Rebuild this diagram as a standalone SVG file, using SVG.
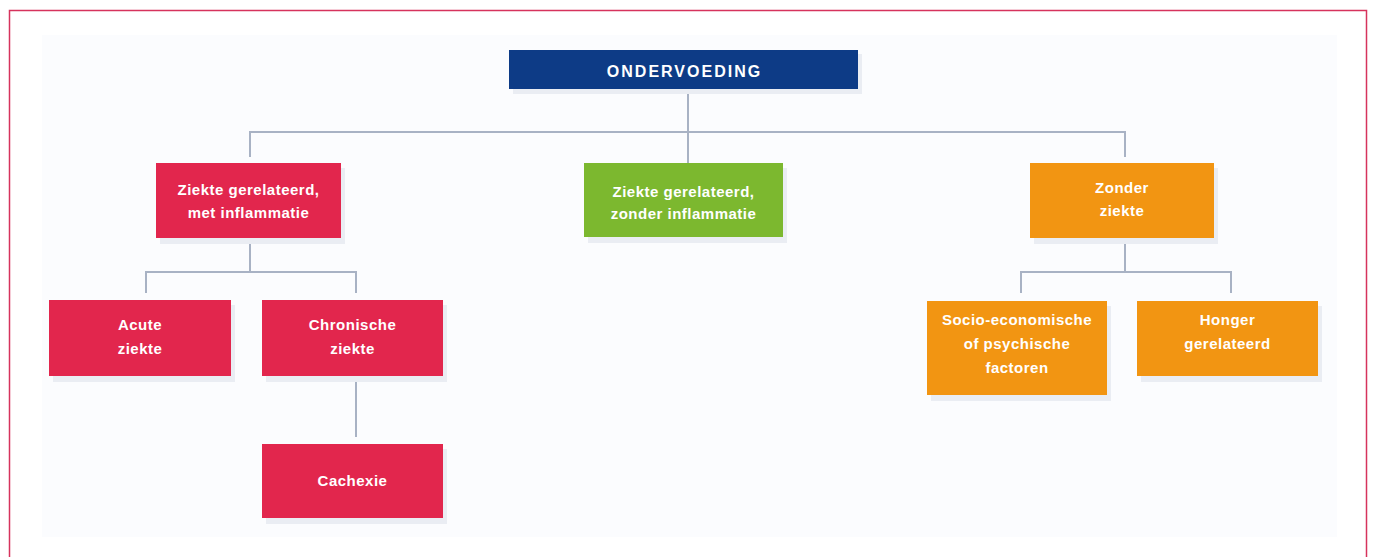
<svg xmlns="http://www.w3.org/2000/svg" width="1375" height="557" viewBox="0 0 1375 557">
<style>
.t{font-family:"Liberation Sans",Arial,sans-serif;font-weight:bold;font-size:15px;letter-spacing:0.5px;fill:#fff;text-anchor:middle}
.c{fill:none;stroke:#a8b2c4;stroke-width:2}
.sh{fill:#eaedf3}
.red{fill:#e2264d}.org{fill:#f29512}.grn{fill:#7cb82f}.nav{fill:#0d3b86}
</style>
<rect x="0" y="0" width="1375" height="557" fill="#fff"/>
<rect x="9.5" y="10.5" width="1357" height="560" fill="none" stroke="#d6335c" stroke-width="1.5"/>
<rect x="42" y="35" width="1295" height="502" fill="#fbfcfe"/>
<g id="connectors">
<path class="c" d="M688 89V132M250 157V132H1125V157M688 132V163"/>
<path class="c" d="M250 238V272M146 293V272H356V293"/>
<path class="c" d="M356 376V437"/>
<path class="c" d="M1125 238V272M1021 293V272H1231V293"/>
</g>
<g id="n-ondervoeding">
<rect class="sh" x="513" y="54" width="349" height="40"/>
<rect class="nav" x="509" y="50" width="349" height="39"/>
<text class="t" x="684.5" y="77" style="font-size:16px;letter-spacing:2px">ONDERVOEDING</text>
</g>
<g id="n-met">
<rect class="sh" x="160" y="168" width="185" height="76"/>
<rect class="red" x="156" y="163" width="185" height="75"/>
<text class="t" x="248.5" y="195">Ziekte gerelateerd,</text>
<text class="t" x="248.5" y="218">met inflammatie</text>
</g>
<g id="n-zonder-infl">
<rect class="sh" x="588" y="168" width="199" height="75"/>
<rect class="grn" x="584" y="163" width="199" height="74"/>
<text class="t" x="683.5" y="197">Ziekte gerelateerd,</text>
<text class="t" x="683.5" y="219">zonder inflammatie</text>
</g>
<g id="n-zonder-ziekte">
<rect class="sh" x="1034" y="168" width="184" height="76"/>
<rect class="org" x="1030" y="163" width="184" height="75"/>
<text class="t" x="1122" y="193">Zonder</text>
<text class="t" x="1122" y="216">ziekte</text>
</g>
<g id="n-acute">
<rect class="sh" x="53" y="305" width="182" height="77"/>
<rect class="red" x="49" y="300" width="182" height="76"/>
<text class="t" x="140" y="330">Acute</text>
<text class="t" x="140" y="354">ziekte</text>
</g>
<g id="n-chronische">
<rect class="sh" x="266" y="305" width="181" height="77"/>
<rect class="red" x="262" y="300" width="181" height="76"/>
<text class="t" x="352.5" y="330">Chronische</text>
<text class="t" x="352.5" y="354">ziekte</text>
</g>
<g id="n-cachexie">
<rect class="sh" x="266" y="449" width="181" height="75"/>
<rect class="red" x="262" y="444" width="181" height="74"/>
<text class="t" x="352.5" y="486">Cachexie</text>
</g>
<g id="n-socio">
<rect class="sh" x="931" y="306" width="180" height="95"/>
<rect class="org" x="927" y="301" width="180" height="94"/>
<text class="t" x="1017" y="325">Socio-economische</text>
<text class="t" x="1017" y="349">of psychische</text>
<text class="t" x="1017" y="373">factoren</text>
</g>
<g id="n-honger">
<rect class="sh" x="1141" y="306" width="181" height="76"/>
<rect class="org" x="1137" y="301" width="181" height="75"/>
<text class="t" x="1227.5" y="325">Honger</text>
<text class="t" x="1227.5" y="349">gerelateerd</text>
</g>
</svg>
